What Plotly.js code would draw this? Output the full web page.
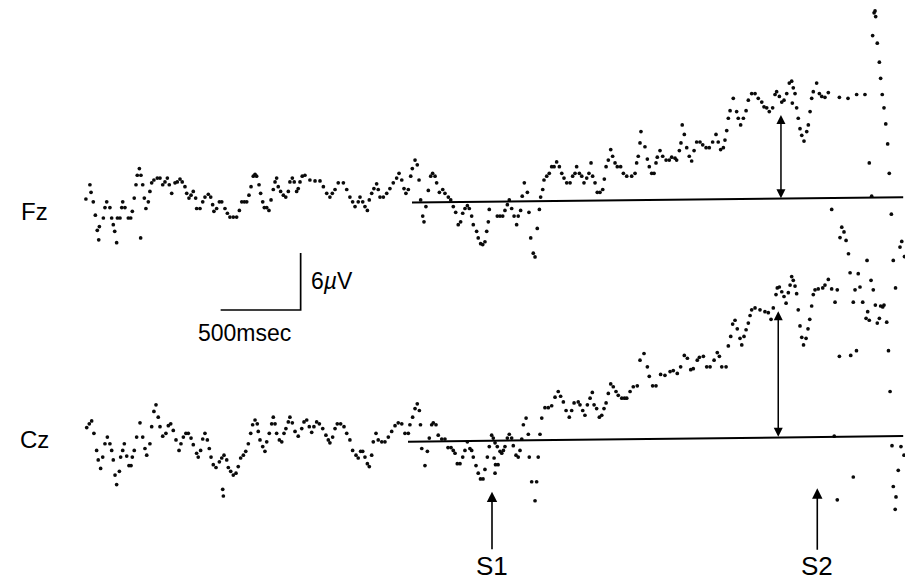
<!DOCTYPE html>
<html><head><meta charset="utf-8">
<script src="https://cdn.plot.ly/plotly-3.0.1.min.js"></script>
<style>html,body{margin:0;padding:0;background:#fff;}#chart{width:905px;height:583px;}</style>
</head><body><div id="chart"></div>
<script>
// Time in ms relative to S1, amplitude in microvolts (positive up)
const fzTime = [-2538,-2513,-2506,-2492,-2479,-2467,-2458,-2454,-2429,-2419,-2408,-2388,-2377,-2367,-2358,-2346,-2341,-2325,-2314,-2308,-2294,-2273,-2258,-2248,-2236,-2225,-2217,-2204,-2194,-2196,-2183,-2173,-2163,-2148,-2138,-2127,-2113,-2092,-2075,-2058,-2044,-2029,-2017,-2002,-1981,-1967,-1950,-1936,-1919,-1908,-1894,-1881,-1867,-1852,-1846,-1825,-1808,-1794,-1773,-1758,-1746,-1738,-1721,-1704,-1689,-1669,-1654,-1638,-1617,-1596,-1579,-1564,-1548,-1533,-1519,-1506,-1492,-1481,-1471,-1456,-1446,-1433,-1423,-1408,-1394,-1381,-1367,-1356,-1346,-1336,-1321,-1304,-1289,-1273,-1263,-1248,-1236,-1221,-1211,-1200,-1186,-1169,-1138,-1106,-1075,-1054,-1033,-1013,-998,-981,-961,-929,-908,-888,-871,-856,-836,-825,-808,-794,-779,-767,-752,-738,-721,-711,-700,-679,-658,-638,-617,-596,-581,-564,-550,-538,-523,-508,-498,-481,-467,-456,-446,-433,-425,-413,-398,-383,-371,-356,-346,-329,-308,-294,-273,-258,-242,-227,-211,-196,-183,-169,-154,-142,-127,-117,-96,-86,-71,-58,-44,-33,-23,-17,33,50,67,81,96,108,123,138,154,164,179,189,202,221,231,242,258,269,283,296,304,317,325,342,358,373,388,404,421,436,450,467,488,504,519,529,546,561,575,592,606,619,629,644,658,675,692,702,713,727,742,754,769,783,804,821,842,873,894,904,914,931,925,956,971,983,998,1013,1025,1033,1050,1067,1088,1108,1123,1144,1154,1171,1181,1189,1202,1217,1233,1248,1263,1279,1300,1317,1338,1358,1379,1400,1414,1429,1446,1456,1467,1477,1488,1508,1529,1539,1554,1571,1588,1602,1623,1644,1664,1686,1700,1717,1733,1754,1769,1779,1796,1811,1825,1842,1858,1873,1883,1894,1877,1904,1914,1925,1936,1950,1967,1977,1988,1998,2008,2029,2046,2061,2081,2102,2171,2225,2279,2331,2358,2373,2379,2388,2394,2398,2408,2421,2429,2439,2450,2461,2473,2483,2496,2123];
const fzAmp = [0.1,1.6,0.8,-0.2,-1.6,-3.2,-4.2,-2.8,-1.9,-0.8,-0.2,-0.8,-1.9,-2.6,-3.3,-4.5,-1.9,-1.9,-0.8,-0.2,-0.8,-1.9,-1.9,-1.2,0.2,1.6,2.6,3.3,2.6,-4.0,1.6,0.2,-0.9,-0.2,0.9,1.8,2.1,2.3,2.3,1.6,1.9,2.3,1.6,0.7,1.8,1.9,2.2,1.9,1.4,0.7,0.2,0.5,0.9,0.2,-0.9,-0.9,-0.2,0.3,0.6,0.3,-0.5,-1.2,-0.9,-0.2,-0.2,-0.9,-1.4,-1.8,-1.8,-1.8,-1.1,-0.2,-0.2,-0.2,0.5,1.4,2.5,2.7,2.5,1.6,0.7,-0.2,-0.8,-0.8,-1.1,0,1.1,1.9,2.3,1.4,0.9,0.5,0.3,0.9,1.9,2.3,1.9,0.9,1.2,1.9,2.5,2.6,2.1,2.0,2.0,1.4,0.7,0.3,0.7,1.1,1.8,1.8,1.1,0.3,-0.2,-0.7,-0.2,0.3,-0.2,-0.7,-1.1,0,0.7,1.2,1.7,1.1,0.3,0.3,0.7,1.2,1.8,2.3,2.8,2.1,1.2,0.7,1.1,2.5,3.3,4.2,3.7,2.1,0,-1.7,-2.3,-0.7,1.0,2.5,2.8,2.5,1.8,0.8,1.1,0.7,0.3,0,-0.7,-1.3,-2.6,-2.3,-1.4,-0.9,-0.6,-0.9,-1.7,-2.6,-3.3,-4.0,-4.6,-4.7,-4.4,-3.3,-2.3,-1.0,-1.7,-1.7,-1.7,-1.1,-0.5,0,-0.9,-1.7,-2.6,-1.7,-1.1,0.4,1.8,0.8,-1.3,-4.0,-5.6,-6.0,-3.0,-1.0,0.3,1.1,2.1,2.5,2.8,3.5,3.5,4.0,3.5,2.8,2.3,1.8,1.8,2.5,2.8,3.5,2.8,2.5,1.8,2.3,2.8,3.9,2.5,1.8,0.8,0.8,1.1,2.2,3.5,4.2,5.3,4.6,3.9,3.5,3.5,2.8,2.5,2.5,2.8,3.9,4.6,7.2,6.0,5.6,4.3,3.5,2.8,2.8,3.9,4.5,5.2,4.6,4.2,4.2,4.5,4.4,4.2,5.2,6.0,7.9,6.9,5.5,4.6,4.1,5.2,6.1,6.1,5.8,5.5,5.5,6.1,6.9,6.1,5.3,5.5,6.3,7.3,8.6,9.4,10.7,9.3,8.6,7.9,8.6,9.4,10.5,11.2,11.2,10.7,10.3,9.8,9.7,9.3,9.7,11.1,11.4,10.9,10.3,10.5,11.2,12.3,12.5,11.8,11.2,10.2,9.7,8.6,7.5,6.8,6.2,7.2,7.9,9.3,10.7,11.4,12.3,11.2,10.9,10.8,11.3,10.8,10.7,11.1,11.1,3.9,0.4,17.3,19.7,19.9,19.3,16.5,14.5,12.8,11.1,9.7,8.0,5.9,2.8,-1.5,-1.0];
const czTime = [-2533,-2517,-2502,-2488,-2471,-2461,-2446,-2433,-2419,-2404,-2388,-2377,-2367,-2356,-2346,-2329,-2321,-2308,-2298,-2283,-2269,-2256,-2248,-2236,-2221,-2200,-2183,-2169,-2158,-2138,-2127,-2113,-2100,-2086,-2075,-2058,-2038,-2023,-2008,-1992,-1975,-1956,-1944,-1929,-1913,-1898,-1881,-1867,-1846,-1836,-1821,-1808,-1794,-1779,-1767,-1756,-1742,-1725,-1704,-1689,-1683,-1679,-1675,-1658,-1648,-1633,-1617,-1600,-1586,-1571,-1554,-1539,-1523,-1508,-1496,-1481,-1467,-1461,-1450,-1433,-1419,-1408,-1392,-1377,-1367,-1356,-1346,-1329,-1314,-1300,-1288,-1273,-1263,-1248,-1231,-1211,-1189,-1175,-1158,-1142,-1127,-1113,-1096,-1079,-1058,-1038,-1023,-1013,-996,-981,-967,-946,-925,-908,-888,-871,-850,-836,-821,-808,-794,-779,-767,-752,-742,-725,-711,-689,-669,-648,-627,-606,-586,-564,-544,-523,-513,-496,-481,-467,-454,-447,-439,-419,-404,-392,-377,-367,-350,-336,-314,-294,-275,-256,-242,-231,-217,-200,-183,-169,-154,-138,-127,-117,-100,-86,-72,-56,-44,-29,-17,-2,8,19,13,22,38,19,33,50,61,71,81,96,108,123,133,150,164,175,186,196,213,227,233,248,279,269,289,300,311,331,352,373,394,414,429,446,463,483,498,513,539,550,567,581,596,613,627,638,654,671,686,700,713,727,742,758,775,789,811,828,842,863,883,908,925,950,971,983,1004,1025,1054,1081,1113,1133,1158,1179,1202,1221,1242,1258,1283,1296,1321,1342,1363,1388,1408,1421,1436,1463,1477,1492,1504,1519,1533,1550,1561,1575,1588,1602,1613,1623,1644,1675,1706,1727,1744,1758,1775,1783,1796,1811,1825,1838,1852,1863,1873,1883,1894,1904,1914,1925,1936,1947,1963,1975,1986,1998,2008,2019,2039,2067,2081,2102,2123,2144,2158,2171,2186,2175,2200,2213,2228,2238,2242,2258,2269,2278,2289,2300,2317,2344,2348,2358,2369,2383,2396,2408,2421,2429,2450,2467,2478,2488,2508,2522,2550,2561,2578,2500,2556,2575,2539,2508,2525,2520,2258,2158,2139,2338,2442];
const czAmp = [1.1,1.5,1.8,0.5,-1.3,-2.3,-3.2,-2.0,-0.6,0.1,-0.6,-1.3,-2.3,-3.9,-4.9,-3.5,-2.0,-1.3,-0.6,-1.9,-2.9,-2.9,-2.0,-1.3,0.1,1.6,0.1,-1.1,-1.8,-0.6,1.2,2.8,3.5,2.2,1.2,0.2,0.5,1.3,1.5,0.8,-0.2,-1.3,-0.6,0.1,0.5,0.5,0,-0.7,-1.6,-2.0,-1.3,-0.1,0.5,-0.2,-1.1,-2.0,-2.8,-3.1,-2.5,-2.1,-5.4,-6.1,-1.8,-2.3,-3.1,-3.5,-3.9,-3.7,-3.0,-2.1,-1.8,-1.4,-0.6,0.5,1.4,1.9,1.5,0.7,-0.2,-0.9,-1.4,-0.4,0.5,1.5,2.2,1.5,0.5,-0.2,-0.4,0.5,1.0,1.7,2.2,1.6,0.7,0.2,1.0,1.7,1.9,1.2,0.6,1.2,1.7,1.5,1.0,0.3,-0.2,-0.5,0.1,1.0,1.5,1.5,1.2,0.5,-0.2,-1.3,-1.8,-2.1,-1.4,-1.4,-2.0,-2.7,-3.0,-1.8,-0.4,0.5,-0.2,-0.4,-0.4,0.1,0.7,1.3,1.6,1.5,0.5,0.5,1.4,2.2,3.1,3.6,2.9,1.4,-1.1,-2.9,-1.4,0,1.4,1.6,1.4,0.3,-0.1,-0.1,-1.0,-1.0,-1.3,-1.6,-2.7,-2.7,-2.0,-1.3,-0.4,-1.1,-1.3,-2.0,-2.9,-3.7,-4.3,-4.3,-3.3,-2.0,-0.9,0.3,0,-0.5,-2.1,-2.8,-2.8,-3.7,-0.9,-1.4,-1.6,-1.3,-0.9,0,0.4,0,-0.8,-1.8,-2.0,-1.3,-0.1,1.4,2.1,0.4,-2.0,-4.6,-4.6,-6.6,-2.0,0.4,2.1,3.2,3.2,3.4,4.3,4.9,4.4,3.8,2.9,2.2,2.9,3.7,3.8,3.5,2.9,2.4,3.5,4.2,4.8,3.5,3.1,2.2,2.4,3.1,3.7,4.7,5.7,5.4,4.9,4.5,4.2,4.2,4.2,4.9,5.4,5.5,8.2,8.9,7.5,6.5,5.5,5.5,6.7,6.6,7.0,7.1,6.8,7.5,8.7,8.4,7.2,7.3,8.2,8.5,8.6,7.5,7.5,8.2,9.0,8.6,7.5,7.5,9.7,10.7,12.0,12.4,11.5,10.5,9.8,10.7,11.4,12.1,12.9,13.5,13.7,13.5,13.3,13.2,12.5,13.7,15.1,15.8,15.9,15.4,14.9,14.2,15.3,16.1,17.0,16.6,16.0,15.2,13.5,11.8,10.6,9.8,10.5,11.5,12.5,13.9,15.1,15.6,15.7,15.8,16.1,16.7,15.7,14.3,15.6,8.6,22.2,21.1,21.7,20.8,19.4,17.4,8.7,14.3,15.6,9.2,17.3,15.9,14.3,18.7,13.3,12.4,16.6,15.6,14.0,12.1,12.6,13.9,14.0,12.2,9.2,4.9,18.7,15.8,20.1,20.7,19.1,-0.8,-0.9,-1.8,-3.4,-5.1,-6.2,-7.5,-4.1,-6.5,0.2,12.6,13.8];

// Baselines (pre-stimulus level) drawn under each trace
const fzBaseTime = [-500, 2570];
const fzBaseAmp = [-0.26, 0.28];
const czBaseTime = [-525, 2570];
const czBaseAmp = [-0.39, 0.21];

// Measured amplitude at S2 (double arrows)
const measTime = [1806, 1789];
const measAmp = [9.1, 13.5];

const channelLabels = ['Fz', 'Cz'];
const stimTimes = [0, 2033];
const stimLabels = ['S1', 'S2'];
const scaleMs = 500;
const scaleUv = 6;

const W = 905, H = 583;
const fontFam = 'Liberation Sans Narrow, Arial Narrow, Liberation Sans, Arial, sans-serif';
const dotStyle = {size: 3.7, color: '#0a0a0a', line: {width: 0}};
const lineStyle = {color: '#000', width: 2};

// scale bar anchor (bottom-left corner) in Fz coordinates
const sbT = -1696, sbV = -11.58;

const traces = [
  {x: fzTime, y: fzAmp, mode: 'markers', marker: dotStyle, yaxis: 'y', hoverinfo: 'skip'},
  {x: czTime, y: czAmp, mode: 'markers', marker: dotStyle, yaxis: 'y2', hoverinfo: 'skip'},
  {x: fzBaseTime, y: fzBaseAmp, mode: 'lines', line: lineStyle, yaxis: 'y'},
  {x: czBaseTime, y: czBaseAmp, mode: 'lines', line: lineStyle, yaxis: 'y2'},
  {x: [sbT, sbT + scaleMs, sbT + scaleMs], y: [sbV, sbV, sbV + scaleUv], mode: 'lines',
   line: {color: '#000', width: 1.7}, yaxis: 'y'}
];

const ann = [];
function px(x){return x / W;}
function py(y){return 1 - y / H;}
const labFont = {size:24, family:fontFam, color:'#000'};
ann.push({xref:'paper', yref:'paper', x:px(34), y:py(211), text:channelLabels[0], showarrow:false, xanchor:'center', yanchor:'middle', font:labFont});
ann.push({xref:'paper', yref:'paper', x:px(34), y:py(439), text:channelLabels[1], showarrow:false, xanchor:'center', yanchor:'middle', font:labFont});
ann.push({xref:'paper', yref:'paper', x:px(309), y:py(281), text:scaleUv + '<i>µ</i>V', showarrow:false, xanchor:'left', yanchor:'middle', font:{size:23, family:fontFam, color:'#000'}});
ann.push({xref:'paper', yref:'paper', x:px(245), y:py(333), text:scaleMs + 'msec', showarrow:false, xanchor:'center', yanchor:'middle', font:{size:23, family:fontFam, color:'#000'}});
// stimulus arrows
ann.push({xref:'x', yref:'y2', x:stimTimes[0], y:-5.65, text:stimLabels[0], showarrow:true, ax:0, ay:74,
  arrowhead:2, arrowsize:1.3, arrowwidth:1.6, arrowcolor:'#000', font:{size:26, family:fontFam, color:'#000'}});
ann.push({xref:'x', yref:'y2', x:stimTimes[1], y:-5.29, text:stimLabels[1], showarrow:true, ax:0, ay:78,
  arrowhead:2, arrowsize:1.3, arrowwidth:1.6, arrowcolor:'#000', font:{size:26, family:fontFam, color:'#000'}});
// measurement double arrows
ann.push({xref:'x', yref:'y', x:measTime[0], y:0.18, axref:'x', ayref:'y', ax:measTime[0], ay:measAmp[0], text:'', showarrow:true,
  arrowside:'end+start', arrowhead:2, arrowsize:1.2, arrowwidth:1.5, arrowcolor:'#000'});
ann.push({xref:'x', yref:'y2', x:measTime[1], y:0.14, axref:'x', ayref:'y2', ax:measTime[1], ay:measAmp[1], text:'', showarrow:true,
  arrowside:'end+start', arrowhead:2, arrowsize:1.2, arrowwidth:1.5, arrowcolor:'#000'});

const layout = {
  width: W, height: H,
  margin: {l:0, r:0, t:0, b:0, pad:0},
  paper_bgcolor: '#fff', plot_bgcolor: '#fff',
  showlegend: false,
  xaxis: {range: [-3075, 2581.25], visible: false, fixedrange: true},
  yaxis: {range: [-40.32, 21.05], visible: false, domain: [0, 1], fixedrange: true},
  yaxis2: {range: [-15.26, 46.11], visible: false, overlaying: 'y', fixedrange: true},
  annotations: ann
};

Plotly.newPlot('chart', traces, layout, {staticPlot: true, displayModeBar: false});
</script></body></html>
